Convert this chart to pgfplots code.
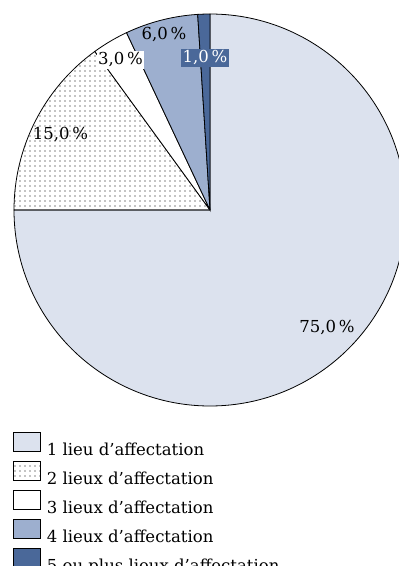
\documentclass[border=0pt]{standalone}
\usepackage{fontspec}
\setmainfont{DejaVu Serif}
\usepackage{pgfplots}
\pgfplotsset{compat=1.18}
\usepackage{pgfplotstable}
\usetikzlibrary{patterns.meta}

\definecolor{lieuA}{HTML}{DCE2EE}
\definecolor{lieuD}{HTML}{9DAFCF}
\definecolor{lieuE}{HTML}{4A6899}

\tikzset{
  slice/.style={draw=black, line width=0.8pt},
  dotfill/.style={pattern={Dots[radius=0.65pt, distance=5pt]}},
}
\newcommand\lbl{\fontsize{16.5}{19}\selectfont}

% share of each number of assignment places (%)
\pgfplotstableread{
n value
1 75
2 15
3 3
4 6
5 1
}\piedata

% slices run clockwise from 12 o'clock
\pgfmathsetmacro\aA{90}
\pgfplotstablegetelem{0}{value}\of\piedata \pgfmathsetmacro\aB{\aA-3.6*\pgfplotsretval}
\pgfplotstablegetelem{1}{value}\of\piedata \pgfmathsetmacro\aC{\aB-3.6*\pgfplotsretval}
\pgfplotstablegetelem{2}{value}\of\piedata \pgfmathsetmacro\aD{\aC-3.6*\pgfplotsretval}
\pgfplotstablegetelem{3}{value}\of\piedata \pgfmathsetmacro\aE{\aD-3.6*\pgfplotsretval}
\pgfplotstablegetelem{4}{value}\of\piedata \pgfmathsetmacro\aF{\aE-3.6*\pgfplotsretval}
\def\R{196}

\begin{document}
\begin{tikzpicture}
\begin{axis}[
    hide axis, x=1pt, y=1pt,
    xmin=-210, xmax=189, ymin=-356, ymax=210,
    clip=false,
    legend image code/.code={\draw[line width=1.2pt, #1] (0pt,-2pt) rectangle (27pt,17pt);},
    legend cell align=left,
    legend style={at={(axis cs:-197.5,-222)}, anchor=north west, draw=none, fill=none,
        inner sep=0pt, row sep=4.4pt, font=\lbl, nodes={inner xsep=6pt, inner ysep=0pt}},
]
\addlegendimage{fill=lieuA}\addlegendentry{1 lieu d’affectation}
\addlegendimage{dotfill}\addlegendentry{2 lieux d’affectation}
\addlegendimage{fill=white}\addlegendentry{3 lieux d’affectation}
\addlegendimage{fill=lieuD}\addlegendentry{4 lieux d’affectation}
\addlegendimage{fill=lieuE}\addlegendentry{5 ou plus lieux d’affectation}

\draw[slice, fill=lieuA] (axis cs:0,0) -- (axis cs:{\R*cos(\aA)},{\R*sin(\aA)})
    arc[start angle=\aA, end angle=\aB, radius=\R pt] -- cycle;
\draw[slice, dotfill] (axis cs:0,0) -- (axis cs:{\R*cos(\aB)},{\R*sin(\aB)})
    arc[start angle=\aB, end angle=\aC, radius=\R pt] -- cycle;
\draw[slice, fill=white] (axis cs:0,0) -- (axis cs:{\R*cos(\aC)},{\R*sin(\aC)})
    arc[start angle=\aC, end angle=\aD, radius=\R pt] -- cycle;
\draw[slice, fill=lieuD] (axis cs:0,0) -- (axis cs:{\R*cos(\aD)},{\R*sin(\aD)})
    arc[start angle=\aD, end angle=\aE, radius=\R pt] -- cycle;
\draw[slice, fill=lieuE] (axis cs:0,0) -- (axis cs:{\R*cos(\aE)},{\R*sin(\aE)})
    arc[start angle=\aE, end angle=\aF, radius=\R pt] -- cycle;

\node[font=\lbl] at (axis cs:117,-118) {75,0\,\%};
\node[font=\lbl] at (axis cs:-149.5,75) {15,0\,\%};
\node[font=\lbl, fill=white, inner xsep=1.5pt, inner ysep=2pt] at (axis cs:-89.5,150) {3,0\,\%};
\node[font=\lbl] at (axis cs:-46,175) {6,0\,\%};
\node[font=\lbl, fill=lieuE, text=white, inner xsep=1.5pt, inner ysep=2pt] at (axis cs:-5,152) {1,0\,\%};

\coordinate (bbsw) at (axis cs:-210,-356);
\coordinate (bbne) at (axis cs:189,210);
\end{axis}
\pgfresetboundingbox
\path[use as bounding box] (bbsw) rectangle (bbne);
\end{tikzpicture}
\end{document}
